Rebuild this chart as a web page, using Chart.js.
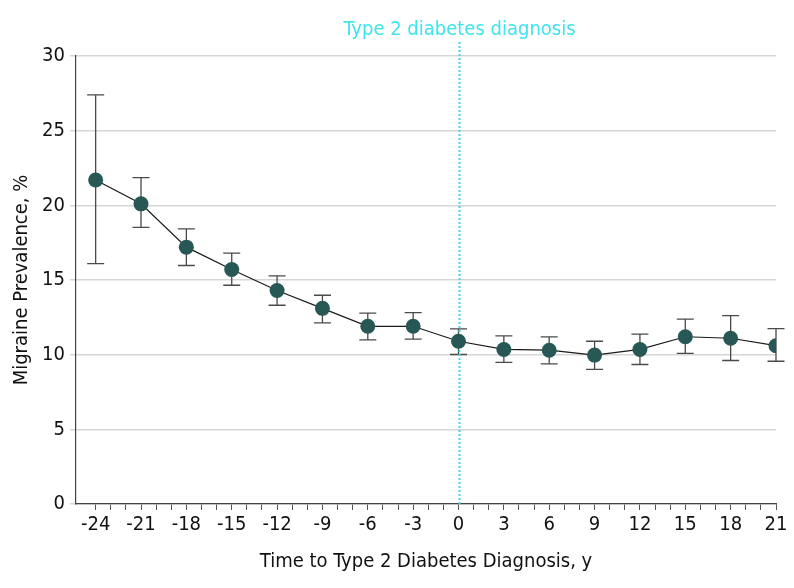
<!DOCTYPE html>
<html>
<head>
<meta charset="utf-8">
<script src="https://cdn.jsdelivr.net/npm/chart.js@4/dist/chart.umd.min.js"></script>
<style>
  html, body { margin: 0; padding: 0; background: #fff; }
  #wrap { width: 794px; height: 588px; }
</style>
</head>
<body>
<div id="wrap"><canvas id="chart" width="794" height="588"></canvas></div>
<script>
// years relative to type 2 diabetes diagnosis
const years = [-24, -21, -18, -15, -12, -9, -6, -3, 0, 3, 6, 9, 12, 15, 18, 21];
const prevalence = [21.7, 20.1, 17.2, 15.7, 14.3, 13.1, 11.9, 11.9, 10.9, 10.35, 10.3, 9.97, 10.35, 11.2, 11.1, 10.6];
const ciUpper = [27.4, 21.86, 18.42, 16.8, 15.27, 13.98, 12.78, 12.82, 11.73, 11.26, 11.19, 10.9, 11.37, 12.38, 12.62, 11.75];
const ciLower = [16.1, 18.53, 15.97, 14.65, 13.31, 12.13, 10.99, 11.04, 10.01, 9.48, 9.38, 9.01, 9.34, 10.08, 9.61, 9.56];
const yTicks = [0, 5, 10, 15, 20, 25, 30];
const markerLabel = "Type 2 diabetes diagnosis";

const FONT = "'Liberation Sans Narrow', 'DejaVu Sans Condensed', sans-serif";

const errorBars = {
    id: 'errorBars',
    beforeDatasetsDraw(chart) {
        const {ctx, scales: {x, y}} = chart;
        ctx.save();
        ctx.strokeStyle = '#4a4a4a';
        ctx.lineWidth = 1.3;
        years.forEach((yr, i) => {
            const px = x.getPixelForValue(yr);
            const top = y.getPixelForValue(ciUpper[i]);
            const bot = y.getPixelForValue(ciLower[i]);
            ctx.beginPath();
            ctx.moveTo(px, top); ctx.lineTo(px, bot);
            ctx.moveTo(px - 8.5, top); ctx.lineTo(px + 8.5, top);
            ctx.moveTo(px - 8.5, bot); ctx.lineTo(px + 8.5, bot);
            ctx.stroke();
        });
        ctx.restore();
    }
};

const diagnosisLine = {
    id: 'diagnosisLine',
    beforeDatasetsDraw(chart) {
        const {ctx, scales: {x, y}} = chart;
        const px = Math.round(x.getPixelForValue(0)) + 0.5;
        ctx.save();
        ctx.strokeStyle = '#3fd9e6';
        ctx.lineWidth = 2;
        ctx.setLineDash([2, 2]);
        ctx.beginPath();
        ctx.moveTo(px, y.top - 14);
        ctx.lineTo(px, y.bottom);
        ctx.stroke();
        ctx.setLineDash([]);
        ctx.fillStyle = '#3fe4ec';
        ctx.font = `20px ${FONT}`;
        ctx.textAlign = 'center';
        ctx.textBaseline = 'middle';
        ctx.fillText(markerLabel, px, y.top - 26);
        ctx.restore();
    }
};

new Chart(document.getElementById('chart'), {
    type: 'line',
    data: {
        datasets: [{
            data: years.map((yr, i) => ({x: yr, y: prevalence[i]})),
            borderColor: '#1a1a1a',
            borderWidth: 1.2,
            pointRadius: 7.5,
            pointBackgroundColor: '#275855',
            pointBorderColor: '#275855',
            pointBorderWidth: 0,
            tension: 0
        }]
    },
    options: {
        responsive: false,
        animation: false,
        layout: {padding: {left: 0, right: 18, top: 56, bottom: 0}},
        plugins: {legend: {display: false}, tooltip: {enabled: false}},
        scales: {
            x: {
                type: 'linear',
                min: -25.3,
                max: 21,
                afterBuildTicks: scale => {
                    const t = [];
                    for (let v = years[0]; v <= years[years.length - 1]; v++) t.push({value: v});
                    scale.ticks = t;
                },
                afterFit: scale => { scale.height = 84; },
                grid: {drawOnChartArea: false, drawTicks: true, tickLength: 6, color: '#555', tickWidth: 1},
                border: {display: true, color: '#444', width: 1.2},
                ticks: {
                    autoSkip: false,
                    maxRotation: 0,
                    padding: 3,
                    color: '#111',
                    font: {family: FONT, size: 20},
                    callback: v => years.includes(v) ? String(v) : ''
                },
                title: {display: true, text: 'Time to Type 2 Diabetes Diagnosis, y', color: '#111',
                    font: {family: FONT, size: 20}, padding: {top: 6, bottom: 14}}
            },
            y: {
                min: 0,
                max: 30,
                afterBuildTicks: scale => { scale.ticks = yTicks.map(v => ({value: v})); },
                afterFit: scale => { scale.width = 76; },
                grid: {color: '#d6d6d6', lineWidth: 1.5, tickLength: 6, drawTicks: true},
                border: {display: true, color: '#444', width: 1.2},
                ticks: {color: '#111', padding: 5, font: {family: FONT, size: 20}},
                title: {display: true, text: 'Migraine Prevalence, %', color: '#111',
                    font: {family: FONT, size: 20}, padding: {top: 10, bottom: 4}}
            }
        }
    },
    plugins: [errorBars, diagnosisLine]
});
</script>
</body>
</html>
